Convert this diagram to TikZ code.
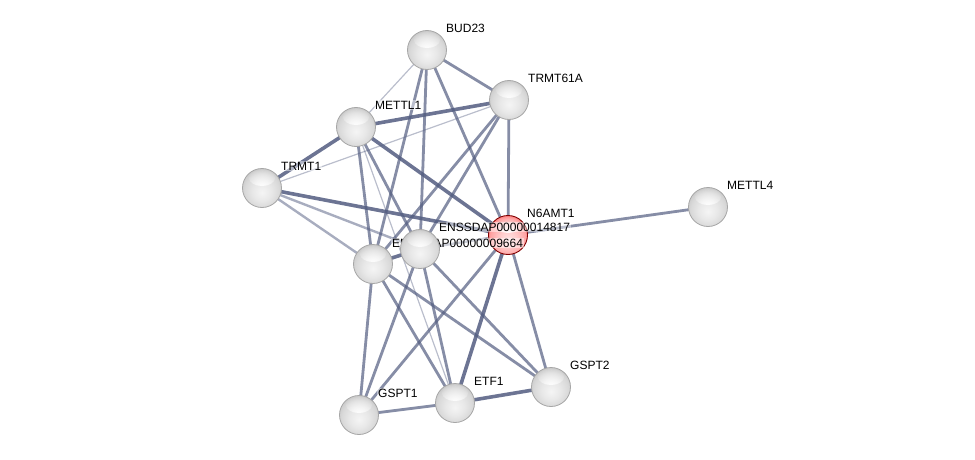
\documentclass[tikz,border=0pt]{standalone}
\usepackage{fontspec}
\setmainfont{Liberation Sans}
\usetikzlibrary{fadings}
\tikzfading[name=glowfade, inner color=transparent!0, outer color=transparent!100]
\pgfdeclareradialshading{graysphere}{\pgfpoint{0bp}{-6bp}}{color(0bp)=(gray!8); color(12bp)=(gray!18); color(22bp)=(gray!30); color(31bp)=(gray!48); color(50bp)=(gray!55)}
\pgfdeclareradialshading{redsphere}{\pgfpoint{0bp}{-6bp}}{color(0bp)=(red!10); color(12bp)=(red!22); color(22bp)=(red!35); color(31bp)=(red!55); color(50bp)=(red!60)}
\definecolor{edgec}{RGB}{82,92,128}
\tikzset{
  hilite/.style={path picture={\fill[white, path fading=glowfade] ([yshift=10pt]path picture bounding box.center) ellipse[x radius=13pt, y radius=8pt];}},
  ball/.style={circle, minimum size=39pt, inner sep=0pt, shading=graysphere, draw=gray!70, line width=0.8pt, hilite},
  redball/.style={circle, minimum size=39pt, inner sep=0pt, shading=redsphere, draw=red!50!black, line width=0.9pt, hilite},
  lbl/.style={anchor=west, inner sep=1pt, fill=white, fill opacity=0.45, text opacity=1, font=\fontsize{12}{14}\selectfont},
  ethick/.style={draw=edgec, line width=3.6pt, draw opacity=0.85},
  emed/.style={draw=edgec, line width=2.8pt, draw opacity=0.7},
  elight/.style={draw=edgec, line width=2.4pt, draw opacity=0.5},
  ethin/.style={draw=edgec, line width=1.2pt, draw opacity=0.4}
}
\begin{document}
\begin{tikzpicture}[x=1pt,y=-1pt]
\useasboundingbox (0,0) rectangle (975,460);
% node positions
\coordinate (A) at (427,50);
\coordinate (B) at (509,100);
\coordinate (C) at (356,127);
\coordinate (D) at (262,188);
\coordinate (E) at (708,207);
\coordinate (F) at (508,235);
\coordinate (G) at (420,249);
\coordinate (H) at (373,264);
\coordinate (I) at (359,415);
\coordinate (J) at (455,403);
\coordinate (K) at (551,387);
% edges
\draw[emed] (A) -- (B);
\draw[ethin] (A) -- (C);
\draw[emed] (A) -- (H);
\draw[emed] (A) -- (G);
\draw[emed] (A) -- (F);
\draw[ethick] (B) -- (C);
\draw[ethin] (B) -- (D);
\draw[emed] (B) -- (F);
\draw[emed] (B) -- (G);
\draw[emed] (B) -- (H);
\draw[ethick] (C) -- (D);
\draw[ethick] (C) -- (F);
\draw[emed] (C) -- (G);
\draw[emed] (C) -- (H);
\draw[ethin] (C) -- (J);
\draw[ethick] (D) -- (F);
\draw[elight] (D) -- (G);
\draw[elight] (D) -- (H);
\draw[emed] (E) -- (F);
\draw[elight] (F) -- (G);
\draw[emed] (F) -- (I);
\draw[ethick] (F) -- (J);
\draw[emed] (F) -- (K);
\draw[ethick] (G) -- (H);
\draw[emed] (G) -- (I);
\draw[emed] (G) -- (J);
\draw[emed] (G) -- (K);
\draw[emed] (H) -- (I);
\draw[emed] (H) -- (J);
\draw[emed] (H) -- (K);
\draw[emed] (I) -- (J);
\draw[ethick] (J) -- (K);
% nodes
\node[ball] (nA) at (A) {};
\node[ball] (nB) at (B) {};
\node[ball] (nC) at (C) {};
\node[ball] (nD) at (D) {};
\node[ball] (nE) at (E) {};
\node[ball] (nI) at (I) {};
\node[ball] (nJ) at (J) {};
\node[ball] (nK) at (K) {};
\node[ball] (nH) at (H) {};
\node[redball] (nF) at (F) {};
\node[lbl] (lH) at ([shift={(18,-21)}]H) {ENSSDAP00000009664};
\node[ball] (nG) at (G) {};
\node[lbl] (lG) at ([shift={(18,-22)}]G) {ENSSDAP00000014817};
\node[lbl] (lF) at ([shift={(18,-22)}]F) {N6AMT1};
\node[lbl] (lA) at ([shift={(18,-22)}]A) {BUD23};
\node[lbl] (lB) at ([shift={(18,-22)}]B) {TRMT61A};
\node[lbl] (lC) at ([shift={(18,-22)}]C) {METTL1};
\node[lbl] (lD) at ([shift={(18,-22)}]D) {TRMT1};
\node[lbl] (lE) at ([shift={(18,-22)}]E) {METTL4};
\node[lbl] (lI) at ([shift={(18,-22)}]I) {GSPT1};
\node[lbl] (lJ) at ([shift={(18,-22)}]J) {ETF1};
\node[lbl] (lK) at ([shift={(18,-22)}]K) {GSPT2};
\end{tikzpicture}
\end{document}
